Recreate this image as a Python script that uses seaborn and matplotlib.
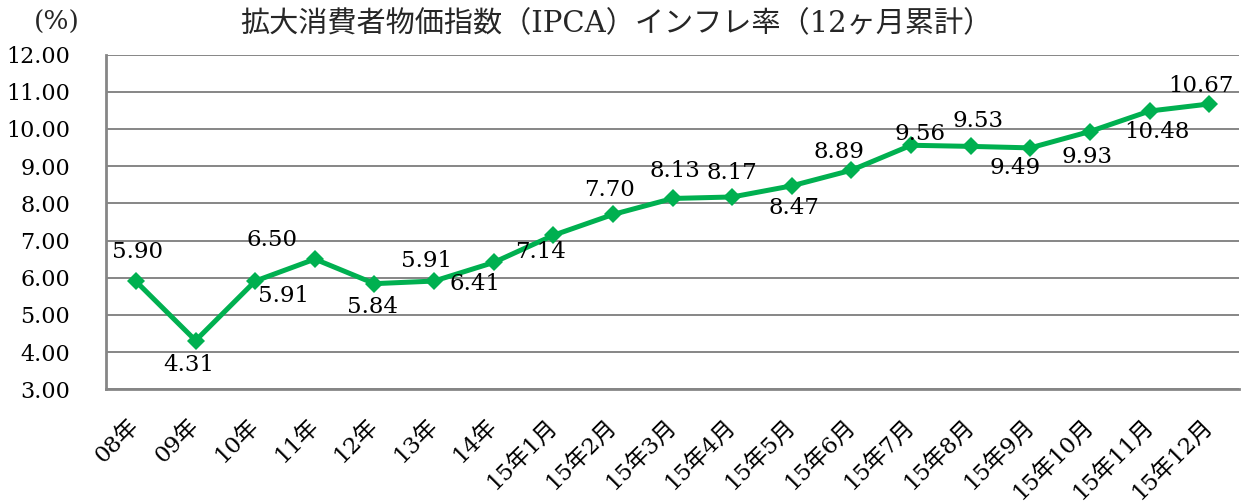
import matplotlib
matplotlib.use("Agg")
import matplotlib.pyplot as plt
import seaborn as sns
import pandas as pd
import numpy as np

categories = ["08年", "09年", "10年", "11年", "12年", "13年", "14年",
              "15年1月", "15年2月", "15年3月", "15年4月", "15年5月", "15年6月",
              "15年7月", "15年8月", "15年9月", "15年10月", "15年11月", "15年12月"]
values = [5.90, 4.31, 5.91, 6.50, 5.84, 5.91, 6.41, 7.14, 7.70, 8.13, 8.17,
          8.47, 8.89, 9.56, 9.53, 9.49, 9.93, 10.48, 10.67]
title = "拡大消費者物価指数（IPCA）インフレ率（12ヶ月累計）"
unit = "(%)"

# label offsets in output pixels (dx right, dy up)
label_offsets = [(1, 29), (-7, -24), (28, -15), (-43, 19), (-2, -23), (-8, 20),
                 (-19, -22), (-13, -17), (-3, 24), (2, 27), (0, 24), (2, -22),
                 (-13, 18), (9, 11), (7, 25), (-15, -20), (-3, -25), (7, -21),
                 (-8, 18)]

sns.set_theme(style="white")
fam = ["DejaVu Serif", "Noto Sans CJK JP"]
plt.rcParams["font.family"] = fam

GREEN = "#00B050"
GRAY = "#868686"

df = pd.DataFrame({"cat": categories, "val": values})

fig = plt.figure(figsize=(12.47, 5.04), dpi=100)
ax = fig.add_axes([106.2 / 1247, 1 - 389.3 / 504, (1239 - 106.2) / 1247, (389.3 - 54.5) / 504])

sns.lineplot(data=df, x="cat", y="val", ax=ax, sort=False, color=GREEN,
             linewidth=3.6, marker="D", markersize=9.5, markeredgewidth=0)

ax.set_xlim(-0.5, len(categories) - 0.5)
ax.set_ylim(3, 12)
yt = np.arange(3, 12.01, 1)
ax.set_yticks(yt)
ax.set_yticklabels([f"{t:.2f}" for t in yt], fontsize=16, color="black")
ax.yaxis.grid(True, color=GRAY, linewidth=1.4)
ax.xaxis.grid(False)
ax.set_xlabel("")
ax.set_ylabel("")

ax.set_xticks(range(len(categories)))
ax.set_xticklabels(categories, rotation=45, ha="right", va="center",
                   rotation_mode="anchor", fontsize=16.5, color="black")
ax.tick_params(axis="x", which="major", length=0, pad=24)
ax.set_xticks(np.arange(-0.5, len(categories), 1), minor=True)
ax.tick_params(axis="x", which="minor", length=8, width=1.6, color=GRAY, direction="out")
ax.tick_params(axis="y", which="major", length=8, width=1.6, color=GRAY, direction="out", pad=18)

for s in ["top", "right"]:
    ax.spines[s].set_visible(False)
for s in ["left", "bottom"]:
    ax.spines[s].set_color(GRAY)
    ax.spines[s].set_linewidth(2)

for i, (v, (dx, dy)) in enumerate(zip(values, label_offsets)):
    ax.annotate(f"{v:.2f}", (i, v), xytext=(dx, dy), textcoords="offset pixels",
                ha="center", va="center", fontsize=16.5, color="black")

fig.text(616 / 1247, 1 - 24 / 504, title, ha="center", va="center", fontsize=21,
         family=["DejaVu Serif", "Noto Sans CJK JP"])
fig.text(57 / 1247, 1 - 22 / 504, unit, ha="center", va="center", fontsize=19,
         family=["DejaVu Serif", "Noto Sans CJK JP"])

fig.savefig("out.png", dpi=100)
